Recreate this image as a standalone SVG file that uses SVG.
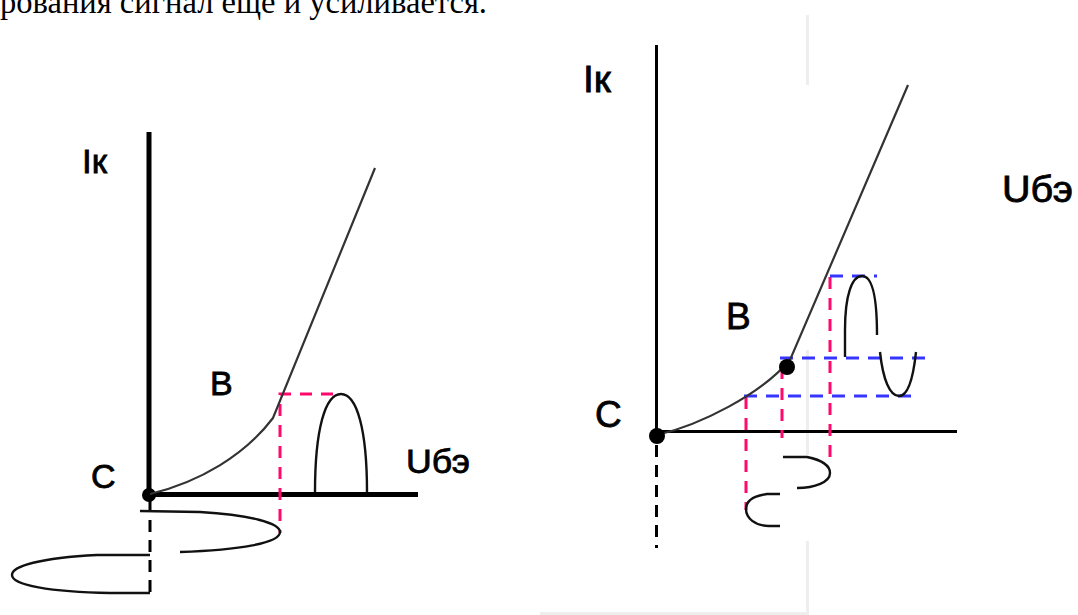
<svg xmlns="http://www.w3.org/2000/svg" width="1078" height="615" viewBox="0 0 1078 615">
<style>
.bg{fill:#fff}
.caption{font-family:"Liberation Serif","Times New Roman",serif;font-size:33px;fill:#000}
.lbl{font-family:"Liberation Sans",Arial,sans-serif;fill:#000;stroke:#000;stroke-width:0.8}
.l1{font-size:34px}
.l2{font-size:37px}
.axisL{stroke:#000;stroke-width:5;fill:none}
.axisR{stroke:#000;stroke-width:3;fill:none}
.dashK{stroke:#000;stroke-width:3;fill:none;stroke-dasharray:12 8}
.curve{stroke:#333;stroke-width:2.2;fill:none}
.wave{stroke:#111;stroke-width:2.4;fill:none}
.pink{stroke:#ff0a6c;stroke-width:3;fill:none;stroke-dasharray:12 9}
.blue{stroke:#3535ff;stroke-width:3;fill:none;stroke-dasharray:13 9}
.frame{stroke:#eeeeee;stroke-width:3;fill:none}
.dot{fill:#000}
</style>
<rect class="bg" x="0" y="0" width="1078" height="615"/>
<text class="caption" x="0" y="13" textLength="487" lengthAdjust="spacingAndGlyphs">рования сигнал еще и усиливается.</text>

<g id="frame">
<line class="frame" x1="807.5" y1="15" x2="807.5" y2="85"/>
<line class="frame" x1="807.5" y1="350" x2="807.5" y2="455"/>
<line class="frame" x1="807.5" y1="541" x2="807.5" y2="615"/>
<line class="frame" x1="540" y1="613.5" x2="809" y2="613.5"/>
</g>

<g id="left-chart">
<g id="left-axes">
<line class="axisL" x1="149" y1="132" x2="149" y2="497"/>
<line class="axisL" x1="147" y1="494.5" x2="418" y2="494.5"/>
<line class="dashK" x1="150" y1="500" x2="150" y2="600"/>
<circle class="dot" cx="149" cy="495" r="7"/>
</g>
<g id="left-guides">
<polyline class="pink" points="333,394 280,394 280,533"/>
</g>
<g id="left-curves">
<path class="curve" d="M150,494 C200,482 245,455 273,418 L375,168"/>
<path class="wave" d="M315,492 C315,430 325,394 341,394 C357,394 367,430 367,492"/>
<path class="wave" d="M140,511 L200,512 C250,515 280,523 280,532 C280,543 240,550 180,552"/>
<path class="wave" d="M150,555 L97,555 C40,558 12,566 12,575 C12,585 50,592 110,593 L150,593"/>
</g>
<g id="left-labels">
<text class="lbl l1" x="82" y="173" textLength="25" lengthAdjust="spacingAndGlyphs">Iк</text>
<text class="lbl l1" x="210" y="395">B</text>
<text class="lbl l1" x="91" y="488">C</text>
<text class="lbl l1" x="406" y="473" textLength="64" lengthAdjust="spacingAndGlyphs">Uбэ</text>
</g>
</g>

<g id="right-chart">
<g id="right-axes">
<line class="axisR" x1="656.5" y1="45" x2="656.5" y2="433"/>
<line class="axisR" x1="655" y1="431.5" x2="957" y2="431.5"/>
<line class="dashK" x1="656.5" y1="445" x2="656.5" y2="548"/>
</g>
<g id="right-guides">
<line class="pink" x1="746" y1="397" x2="746" y2="510"/>
<line class="pink" x1="782" y1="367" x2="782" y2="438"/>
<line class="pink" x1="830" y1="277" x2="830" y2="457"/>
<line class="blue" x1="830" y1="276" x2="877" y2="276"/>
<line class="blue" x1="780" y1="358" x2="930" y2="358"/>
<line class="blue" x1="744" y1="396" x2="917" y2="396"/>
</g>
<g id="right-curves">
<path class="curve" d="M657,435 C700,425 760,395 790,360 L908,85"/>
<path class="wave" d="M845,357 L845,330 C845,295 852,276 862,276 C872,276 877,295 877,335"/>
<path class="wave" d="M880,352 C883,380 890,396 899,396 C908,396 913,380 916,352"/>
<path class="wave" d="M783,457 L807,457 C822,460 830,466 830,473 C830,482 815,488 797,488"/>
<path class="wave" d="M780,494 L767,494 C752,496 746,502 746,509 C746,518 755,526 769,526 L780,526"/>
<circle class="dot" cx="657" cy="436" r="8"/>
<circle class="dot" cx="787" cy="367" r="8"/>
</g>
<g id="right-labels">
<text class="lbl l2" x="583" y="92" textLength="28" lengthAdjust="spacingAndGlyphs">Iк</text>
<text class="lbl l2" x="726" y="329">B</text>
<text class="lbl l2" x="595" y="427">C</text>
<text class="lbl l2" x="1002" y="202" textLength="71" lengthAdjust="spacingAndGlyphs">Uбэ</text>
</g>
</g>
</svg>
